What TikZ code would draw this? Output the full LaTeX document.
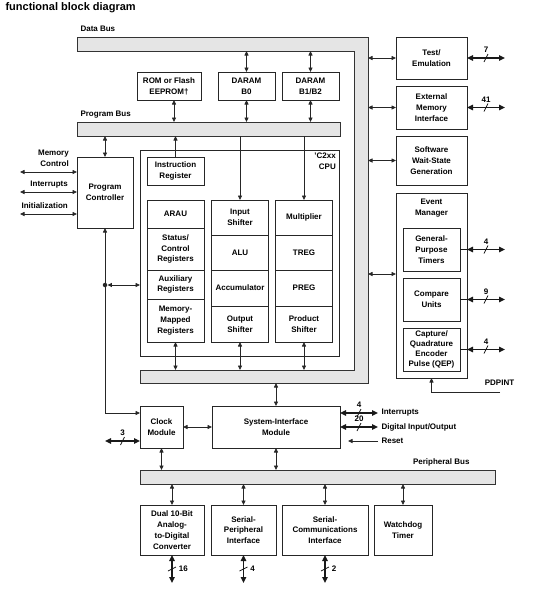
\documentclass[tikz,border=0pt]{standalone}
\usepackage{fontspec}
\setmainfont{Liberation Sans}
\usetikzlibrary{positioning,arrows.meta,shapes,decorations.markings}

\begin{document}
\begin{tikzpicture}[x=1pt,y=-1pt,
        >={Triangle[length=4.5pt,width=4pt]},
        every node/.style={font=\bfseries\fontsize{8}{10.8}\selectfont},
        blk/.style={draw=black!85, line width=1pt, align=center, inner sep=0pt, outer sep=0pt},
        bus/.style={draw=black!80, line width=0.8pt, fill=black!10, outer sep=0pt},
        wire/.style={draw=black!85, line width=0.8pt},
        thk/.style={draw=black!90, line width=1.7pt, >={Triangle[length=6pt,width=5.5pt]}, <->},
        hslash/.style={thk, postaction={decorate, decoration={markings, mark=at position 0.5 with {\draw[-, line width=0.7pt] (-2pt,-4pt) -- (2pt,4pt);}}}},
        vslash/.style={thk, postaction={decorate, decoration={markings, mark=at position 0.5 with {\draw[-, line width=0.7pt] (2pt,-4pt) -- (-2pt,4pt);}}}},
        num/.style={inner sep=0pt}]
    \useasboundingbox (0,0) rectangle (548,590);

    % title and bus labels
    \node[anchor=base west, font=\bfseries\fontsize{11}{13}\selectfont] (title) at (2,10) {functional block diagram};
    \node[anchor=base west] (dblab) at (77,31) {Data Bus};
    \node[anchor=base west] (pblab) at (77,116) {Program Bus};
    \node[anchor=base east] (perlab) at (473,464) {Peripheral Bus};

    % buses
    \draw[bus] (77,37) -- (368,37) -- (368,383) -- (140,383) -- (140,370) -- (354,370) -- (354,51) -- (77,51) -- cycle;
    \coordinate (dbt) at (354,51);
    \coordinate (dbr) at (368,37);
    \coordinate (dbb) at (140,370);
    \coordinate (dbo) at (140,383);
    \node[bus, minimum width=263, minimum height=14, inner sep=0pt] (progbus) at (208.5,129) {};
    \node[bus, minimum width=355, minimum height=14, inner sep=0pt] (perbus) at (317.5,477) {};

    % memories
    \node[blk, minimum width=64, minimum height=28] (rom) at (169,86) {ROM or Flash\\EEPROM†};
    \node[blk, minimum width=57, minimum height=28] (b0) at (246.5,86) {DARAM\\B0};
    \node[blk, minimum width=57, minimum height=28] (b12) at (310.5,86) {DARAM\\B1/B2};

    % program controller and left signals
    \node[blk, minimum width=56, minimum height=71] (pc) at (105,192.5) {Program\\Controller};
    \node[anchor=north east, inner sep=0pt, align=right] (memctl) at (69,149.5) {Memory\\Control};
    \node[anchor=north east, inner sep=0pt] (intlab) at (68,181) {Interrupts};
    \node[anchor=north east, inner sep=0pt] (initlab) at (68,202.5) {Initialization};
    \coordinate (mcend) at (20,172);
    \coordinate (intend) at (20,192);
    \coordinate (iniend) at (20,214);

    % CPU
    \node[blk, minimum width=199, minimum height=206] (cpu) at (239.5,253) {};
    \node[anchor=north east, inner sep=0pt, align=right] (cpulab) at (336,152.5) {'C2xx\\CPU};
    \node[blk, minimum width=57, minimum height=28] (ir) at (175.5,171) {Instruction\\Register};
    \node[blk, minimum width=57, minimum height=28] (arau) at (175.5,214) {ARAU};
    \node[blk, minimum width=57, minimum height=42, below=0pt of arau] (stat) {Status/\\Control\\Registers};
    \node[blk, minimum width=57, minimum height=29, below=0pt of stat] (aux) {Auxiliary\\Registers};
    \node[blk, minimum width=57, minimum height=43, below=0pt of aux] (mmr) {Memory-\\Mapped\\Registers};
    \node[blk, minimum width=57, minimum height=35] (insh) at (240,217.5) {Input\\Shifter};
    \node[blk, minimum width=57, minimum height=35, below=0pt of insh] (alu) {ALU};
    \node[blk, minimum width=57, minimum height=36, below=0pt of alu] (acc) {Accumulator};
    \node[blk, minimum width=57, minimum height=36, below=0pt of acc] (outsh) {Output\\Shifter};
    \node[blk, minimum width=57, minimum height=35] (mult) at (304,217.5) {Multiplier};
    \node[blk, minimum width=57, minimum height=35, below=0pt of mult] (treg) {TREG};
    \node[blk, minimum width=57, minimum height=36, below=0pt of treg] (preg) {PREG};
    \node[blk, minimum width=57, minimum height=36, below=0pt of preg] (prsh) {Product\\Shifter};
    \node[circle, fill=black!85, inner sep=0pt, minimum size=4.5pt] (dot) at (105,285) {};

    % right column
    \node[blk, minimum width=71, minimum height=42] (tem) at (431.5,58) {Test/\\Emulation};
    \node[blk, minimum width=71, minimum height=43] (emi) at (431.5,107.5) {External\\Memory\\Interface};
    \node[blk, minimum width=71, minimum height=49] (swg) at (431.5,160.5) {Software\\Wait-State\\Generation};
    \node[blk, minimum width=71, minimum height=185] (evm) at (431.5,285.5) {};
    \node[anchor=north, inner sep=0pt, align=center] (evmlab) at ([yshift=-5.5pt]evm.north) {Event\\Manager};
    \node[blk, minimum width=57, minimum height=43] (gpt) at (431.5,249.5) {General-\\Purpose\\Timers};
    \node[blk, minimum width=57, minimum height=43] (cmp) at (431.5,299.5) {Compare\\Units};
    \node[blk, minimum width=57, minimum height=43, font=\bfseries\fontsize{8}{9.8}\selectfont] (cap) at (431.5,349.5) {Capture/\\Quadrature\\Encoder\\Pulse (QEP)};
    \node (pdpint) at (499.5,383) {PDPINT};
    \coordinate (pdp) at (500,392);

    % clock and system interface
    \node[blk, minimum width=43, minimum height=42] (clk) at (161.5,427) {Clock\\Module};
    \node[blk, minimum width=128, minimum height=42] (sim) at (276,427) {System-Interface\\Module};
    \node[anchor=west] (lint) at (378,413) {Interrupts};
    \node[anchor=west] (ldio) at (378,427) {Digital Input/Output};
    \node[anchor=west] (lrst) at (378,441) {Reset};

    % peripherals
    \node[blk, minimum width=64, minimum height=50] (adc) at (172,530) {Dual 10-Bit\\Analog-\\to-Digital\\Converter};
    \node[blk, minimum width=65, minimum height=50] (spi) at (243.5,530) {Serial-\\Peripheral\\Interface};
    \node[blk, minimum width=86, minimum height=50] (sci) at (325,530) {Serial-\\Communications\\Interface};
    \node[blk, minimum width=58, minimum height=50] (wdt) at (403,530) {Watchdog\\Timer};

    % connections
    \coordinate (romout) at ([xshift=5pt]rom.south);
    \draw[wire, <->] (b0.north |- dbt) -- (b0.north);
    \draw[wire, <->] (b12.north |- dbt) -- (b12.north);
    \draw[wire, <->] (romout) -- (romout |- progbus.north);
    \draw[wire, <->] (b0.south) -- (b0.south |- progbus.north);
    \draw[wire, <->] (b12.south) -- (b12.south |- progbus.north);
    \draw[wire, <->] (pc.north |- progbus.south) -- (pc.north);
    \draw[wire, ->] (ir.north) -- (ir.north |- progbus.south);
    \draw[wire, ->] (insh.north |- progbus.south) -- (insh.north);
    \draw[wire, ->] (mult.north |- progbus.south) -- (mult.north);
    \draw[wire, <->] (mmr.south) -- (mmr.south |- dbb);
    \draw[wire, <->] (outsh.south) -- (outsh.south |- dbb);
    \draw[wire, <->] (prsh.south) -- (prsh.south |- dbb);

    \draw[wire, <->] (mcend) -- (mcend -| pc.west);
    \draw[wire, <->] (intend) -- (intend -| pc.west);
    \draw[wire, <->] (iniend) -- (iniend -| pc.west);
    \draw[wire, <->] (pc.south) |- (clk.west |- 0,413);
    \draw[wire, <->] (dot) -- (dot -| cpu.west);

    \draw[wire, <->] (tem.west -| dbr) -- (tem.west);
    \draw[wire, <->] (emi.west -| dbr) -- (emi.west);
    \draw[wire, <->] (swg.west -| dbr) -- (swg.west);
    \draw[wire, <->] (dbr |- 0,274) -- (evm.west |- 0,274);
    \draw[wire, ->] (pdp) -| (evm.south);

    \draw[hslash] (tem.east) -- ++(38,0) node[midway, above=4.5pt, num] (n7) {7};
    \draw[hslash] (emi.east) -- ++(38,0) node[midway, above=4.5pt, num] (n41) {41};
    \draw[thk, -] (gpt.east) -- (gpt.east -| evm.east);
    \draw[thk, -] (cmp.east) -- (cmp.east -| evm.east);
    \draw[thk, -] (cap.east) -- (cap.east -| evm.east);
    \draw[hslash] (gpt.east -| evm.east) -- ++(38,0) node[midway, above=4.5pt, num] (n4a) {4};
    \draw[hslash] (cmp.east -| evm.east) -- ++(38,0) node[midway, above=4.5pt, num] (n9) {9};
    \draw[hslash] (cap.east -| evm.east) -- ++(38,0) node[midway, above=4.5pt, num] (n4b) {4};

    \draw[wire, <->] (clk.east) -- (sim.west);
    \draw[wire, <->] (sim.north |- dbo) -- (sim.north);
    \draw[wire, <->] (clk.south) -- (clk.south |- perbus.north);
    \draw[wire, <->] (sim.south) -- (sim.south |- perbus.north);
    \draw[hslash] (clk.west |- 0,441) -- ++(-35,0) node[midway, above=4.5pt, num] (n3) {3};
    \draw[hslash] (sim.east |- lint) -- (lint.west) node[midway, above=4.5pt, num] (n4i) {4};
    \draw[hslash] (sim.east |- ldio) -- (ldio.west) node[midway, above=4.5pt, num] (n20) {20};
    \draw[wire, ->, shorten >=8pt] (lrst.west) -- (sim.east |- lrst);

    \draw[wire, <->] (adc.north |- perbus.south) -- (adc.north);
    \draw[wire, <->] (spi.north |- perbus.south) -- (spi.north);
    \draw[wire, <->] (sci.north |- perbus.south) -- (sci.north);
    \draw[wire, <->] (wdt.north |- perbus.south) -- (wdt.north);
    \draw[vslash] (adc.south) -- ++(0,28) node[midway, right=6pt, num] (n16) {16};
    \draw[vslash] (spi.south) -- ++(0,28) node[midway, right=6pt, num] (n4s) {4};
    \draw[vslash] (sci.south) -- ++(0,28) node[midway, right=6pt, num] (n2) {2};
\end{tikzpicture}
\end{document}
